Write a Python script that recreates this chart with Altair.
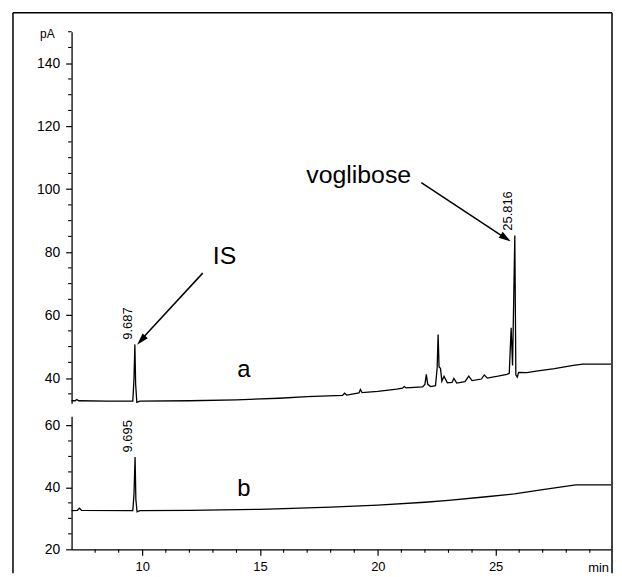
import altair as alt
import pandas as pd

FONT = "Liberation Sans"

# ---------------- data ----------------
# chromatogram a (upper trace): retention time (min) / signal (pA)
time_a = [7.0, 7.15, 7.22, 7.3, 8.5, 9.60, 9.65, 9.687, 9.72, 9.77, 9.9,
          12.0, 14.0, 15.8, 17.0, 18.5, 18.59, 18.68, 19.2, 19.26, 19.33,
          20.0, 20.8, 21.05, 21.12, 21.2, 21.9, 22.0, 22.06, 22.12, 22.24,
          22.45, 22.52, 22.56, 22.60, 22.66, 22.72, 22.81, 22.95, 23.15,
          23.23, 23.35, 23.7, 23.86, 24.0, 24.4, 24.52, 24.65, 25.1, 25.48,
          25.58, 25.66, 25.72, 25.816, 25.86, 25.92, 25.98, 26.32, 26.8,
          27.5, 28.3, 28.7, 29.9]
pa_a = [32.8, 32.8, 33.2, 32.8, 32.7, 32.7, 40.0, 50.7, 38.0, 32.3, 32.7,
        32.8, 33.1, 33.6, 34.1, 34.5, 35.2, 34.6, 35.3, 36.4, 35.4,
        35.8, 36.5, 36.8, 37.3, 36.9, 37.2, 38.0, 41.2, 38.0, 37.3,
        37.6, 43.3, 53.8, 43.5, 43.1, 39.0, 40.6, 38.5, 38.6,
        39.9, 38.4, 38.9, 40.6, 39.2, 39.7, 41.0, 40.0, 40.6, 41.2,
        41.5, 56.0, 44.0, 85.3, 41.0, 40.3, 41.8, 41.7, 42.3,
        43.0, 44.0, 44.4, 44.4]

# chromatogram b (lower trace)
time_b = [7.0, 7.25, 7.33, 7.42, 9.60, 9.65, 9.695, 9.73, 9.78, 9.9, 12.0,
          15.0, 18.0, 20.0, 22.0, 23.0, 24.5, 25.8, 27.0, 28.4, 29.9]
pa_b = [32.5, 32.6, 33.3, 32.6, 32.5, 37.9, 49.8, 36.0, 32.1, 32.5, 32.6,
        32.9, 33.6, 34.3, 35.2, 35.8, 36.9, 37.9, 39.3, 40.8, 40.8]

peaks_a_time = [9.687, 25.816]
peaks_a_label = ["9.687", "25.816"]
peaks_b_time = [9.695]
peaks_b_label = ["9.695"]

x_ticks = [10, 15, 20, 25]
x_minor = [8, 9, 11, 12, 13, 14, 16, 17, 18, 19, 21, 22, 23, 24, 26, 27, 28, 29]
y_ticks_a = [40, 60, 80, 100, 120, 140]
y_minor_a = [35, 45, 50, 55, 65, 70, 75, 85, 90, 95, 105, 110, 115, 125,
             130, 135, 145, 150]
y_ticks_b = [20, 40, 60]
y_minor_b = [25, 30, 35, 45, 50, 55]

# ---------------- layout ----------------
W = 543
HA = 374
HB = 134
X_DOM = [7, 29.9]
YA_DOM = [32, 150]
YB_DOM = [20, 63]

xs = alt.Scale(domain=X_DOM, nice=False, zero=False)
ysa = alt.Scale(domain=YA_DOM, nice=False, zero=False)
ysb = alt.Scale(domain=YB_DOM, nice=False, zero=False)

one = pd.DataFrame({"d": [0]})


def seg(x1, y1, x2, y2, w=1.5):
    return alt.Chart(one).mark_rule(color="black", strokeWidth=w).encode(
        x=alt.value(x1), y=alt.value(y1), x2=alt.value(x2), y2=alt.value(y2))


def txt(s, x, y, size, align="center", baseline="alphabetic"):
    return alt.Chart(one).mark_text(
        text=s, font=FONT, fontSize=size, color="black",
        align=align, baseline=baseline).encode(x=alt.value(x), y=alt.value(y))


HEAD = "M0,0L-0.3,1L0.3,1Z"


def head(x, y, ang):
    return alt.Chart(one).mark_point(
        shape=HEAD, filled=True, fill="black", color="black", opacity=1,
        size=576, angle=ang, strokeWidth=0).encode(x=alt.value(x), y=alt.value(y))


def yaxis(vals):
    return alt.Axis(values=vals, title=None, grid=False, tickSize=6,
                    tickColor="black", tickWidth=1.2, domainColor="black",
                    domainWidth=1.3, labelFont=FONT, labelFontSize=14,
                    labelColor="black", labelPadding=6)


AX_YA = yaxis(y_ticks_a)
AX_YB = yaxis(y_ticks_b)
AX_XB = alt.Axis(values=x_ticks, title=None, grid=False, tickSize=6,
                 tickColor="black", tickWidth=1.2, domainColor="black",
                 domainWidth=1.3, labelFont=FONT, labelFontSize=13,
                 labelColor="black", labelPadding=5)

# ---------------- panel a ----------------
df_a = pd.DataFrame({"t": time_a, "v": pa_a})
line_a = alt.Chart(df_a).mark_line(color="black", strokeWidth=1.3).encode(
    x=alt.X("t:Q", scale=xs, axis=None),
    y=alt.Y("v:Q", scale=ysa, axis=AX_YA),
)
minor_a = alt.Chart(pd.DataFrame({"v": y_minor_a})).mark_rule(
    color="black", strokeWidth=1.1).encode(
    y=alt.Y("v:Q", scale=ysa, axis=AX_YA), x=alt.value(0), x2=alt.value(-3.5))

apex_a = [pa_a[time_a.index(p)] + 1.5 for p in peaks_a_time]
plab_a = alt.Chart(pd.DataFrame({"t": peaks_a_time, "v": apex_a, "s": peaks_a_label})).mark_text(
    angle=270, align="left", baseline="bottom", font=FONT, fontSize=13, color="black").encode(
    x=alt.X("t:Q", scale=xs, axis=None), y=alt.Y("v:Q", scale=ysa, axis=AX_YA), text="s:N")

top = alt.layer(
    line_a, minor_a, plab_a,
    seg(-59, -19, 544, -19), seg(-59, -19, -59, 545), seg(544, -19, 544, 545),
    txt("pA", -17, 2, 12, align="right", baseline="middle"),
    txt("IS", 154, 234, 25),
    txt("voglibose", 289, 152, 25),
    txt("a", 173.5, 348, 24),
    seg(132, 243, 70, 310, w=1.5), head(66, 315, 222.5),
    seg(352, 152, 437, 208, w=1.5), head(442, 211, 123.2),
).properties(width=W, height=HA)

# ---------------- panel b ----------------
df_b = pd.DataFrame({"t": time_b, "v": pa_b})
line_b = alt.Chart(df_b).mark_line(color="black", strokeWidth=1.3).encode(
    x=alt.X("t:Q", scale=xs, axis=AX_XB),
    y=alt.Y("v:Q", scale=ysb, axis=AX_YB),
)
minor_by = alt.Chart(pd.DataFrame({"v": y_minor_b})).mark_rule(
    color="black", strokeWidth=1.1).encode(
    y=alt.Y("v:Q", scale=ysb, axis=AX_YB), x=alt.value(0), x2=alt.value(-3.5))
minor_bx = alt.Chart(pd.DataFrame({"t": x_minor})).mark_rule(
    color="black", strokeWidth=1.1).encode(
    x=alt.X("t:Q", scale=xs, axis=AX_XB), y=alt.value(HB), y2=alt.value(HB + 3.5))

apex_b = [pa_b[time_b.index(p)] + 1.5 for p in peaks_b_time]
plab_b = alt.Chart(pd.DataFrame({"t": peaks_b_time, "v": apex_b, "s": peaks_b_label})).mark_text(
    angle=270, align="left", baseline="bottom", font=FONT, fontSize=13, color="black").encode(
    x=alt.X("t:Q", scale=xs, axis=AX_XB), y=alt.Y("v:Q", scale=ysb, axis=AX_YB), text="s:N")

bottom = alt.layer(
    line_b, minor_by, minor_bx, plab_b,
    txt("b", 173.5, 80, 24),
    txt("min", 541, 157, 13, align="right"),
).properties(width=W, height=HB)

chart = alt.vconcat(top, bottom, spacing=13, bounds="flush").properties(
    padding={"left": 4, "top": 2, "right": 0, "bottom": 0},
    background="white",
).configure_view(stroke=None)

chart.save("out.html", embed_options={"renderer": "svg", "actions": False})
